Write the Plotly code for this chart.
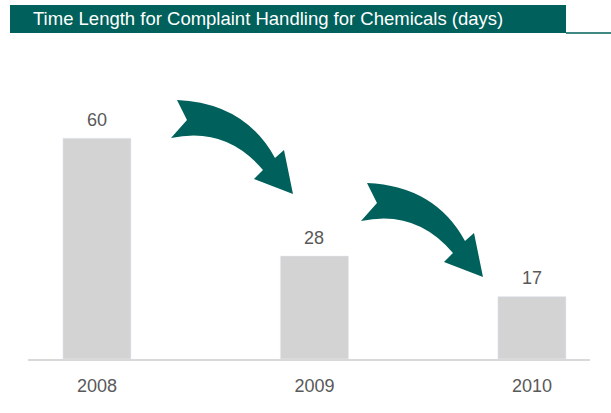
import plotly.graph_objects as go

# data
years = ["2008", "2009", "2010"]
days = [60, 28, 17]
title_text = "Time Length for Complaint Handling for Chemicals (days)"

TEAL = "#00605B"
BAR = "#D3D3D3"
GREY_TXT = "#595959"

W, H = 611, 413
L, R, T, B = 28, 21, 40, 54
PW, PH = W - L - R, H - T - B


def px(x, y):
    # pixel position in the page -> paper coords
    return (x - L) / PW, (H - B - y) / PH


def arrow_path(dx, dy):
    pts = [("M", 177, 100), ("Q", 245, 103, 275, 158), ("L", 284, 150),
           ("L", 293, 194), ("L", 254, 179), ("L", 263, 170),
           ("Q", 226, 126, 171, 138), ("L", 187, 120)]
    s = ""
    for p in pts:
        cmd, vals = p[0], p[1:]
        xy = []
        for i in range(0, len(vals), 2):
            a, b = px(vals[i] + dx, vals[i + 1] + dy)
            xy.append(f"{a:.4f},{b:.4f}")
        s += cmd + " " + " ".join(xy) + " "
    return s + "Z"


fig = go.Figure(go.Bar(x=years, y=days, marker_color=BAR, width=0.313))

shapes = []
x0, y0 = px(10, 5)
x1, y1 = px(566, 33)
shapes.append(dict(type="rect", xref="paper", yref="paper", x0=x0, y0=y0, x1=x1, y1=y1,
                   fillcolor=TEAL, line_width=0, layer="above"))
lx0, ly = px(566, 33)
lx1, _ = px(611, 33)
shapes.append(dict(type="line", xref="paper", yref="paper", x0=lx0, y0=ly, x1=lx1, y1=ly,
                   line=dict(color=TEAL, width=1.5)))
for dx, dy in [(0, 0), (190, 83)]:
    shapes.append(dict(type="path", xref="paper", yref="paper", path=arrow_path(dx, dy),
                       fillcolor=TEAL, line_width=0, layer="above"))

annotations = []
tx, ty = px(31, 19)
annotations.append(dict(text=title_text, xref="paper", yref="paper", x=tx, y=ty,
                        xanchor="left", yanchor="middle", showarrow=False,
                        font=dict(size=18.5, color="white")))
# value labels above bars (category index on the x axis)
for i, v in enumerate(days):
    annotations.append(dict(text=str(v), x=i, y=v, xanchor="center", yanchor="middle",
                            yshift=18, showarrow=False,
                            font=dict(size=18, color=GREY_TXT)))

fig.update_layout(
    width=W, height=H,
    margin=dict(l=L, r=R, t=T, b=B),
    paper_bgcolor="white", plot_bgcolor="white",
    font=dict(family="Liberation Sans, Arial, sans-serif", color=GREY_TXT),
    showlegend=False,
    shapes=shapes,
    annotations=annotations,
    xaxis=dict(type="category", range=[-0.317, 2.267], showgrid=False, showline=True,
               linecolor="#D9D9D9", linewidth=1.5, ticks="", ticklabelstandoff=10,
               tickfont=dict(size=18, color=GREY_TXT), fixedrange=True),
    yaxis=dict(range=[0, PH / 3.68], visible=False, fixedrange=True),
)

fig.write_html("out.html", config={"displayModeBar": False},
               post_script="document.body.style.margin='0';")
